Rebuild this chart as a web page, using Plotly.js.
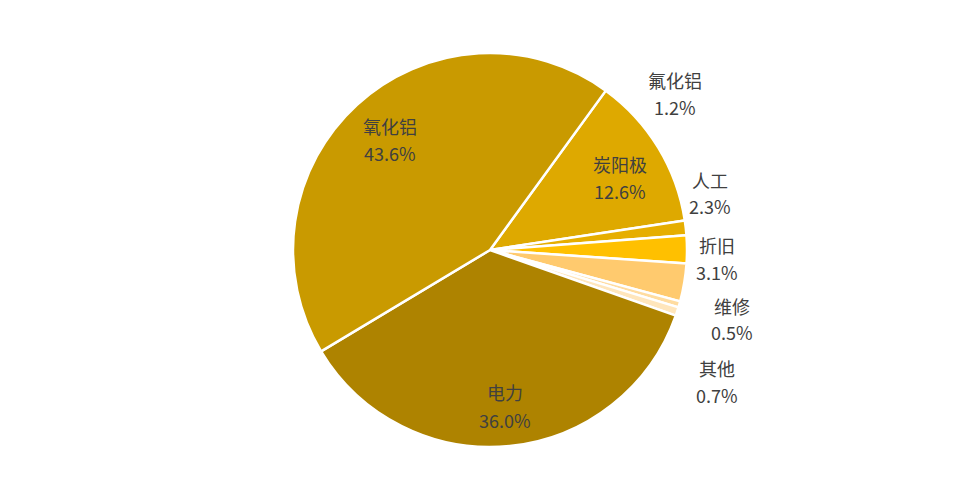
<!DOCTYPE html>
<html>
<head>
<meta charset="utf-8">
<script src="https://cdn.plot.ly/plotly-3.0.1.min.js"></script>
<style>html,body{margin:0;padding:0;background:#fff;}#chart{width:980px;height:500px;}</style>
</head>
<body>
<div id="chart"></div>
<script>
const categories = ["炭阳极", "氟化铝", "人工", "折旧", "维修", "其他", "电力", "氧化铝"];
const values = [12.6, 1.2, 2.3, 3.1, 0.5, 0.7, 36.0, 43.6];
const colors = ["#DEA900", "#E6AE00", "#FFC000", "#FFCA6E", "#FFDCA0", "#FFE6BC", "#AE8300", "#C99A00"];
// label centres in px: [x, y of name line, y of percent line]
const labelPos = {
  "炭阳极": [620, 164, 191], "氟化铝": [675, 80, 107], "人工": [710, 180, 206], "折旧": [717, 245, 272],
  "维修": [732, 306, 332], "其他": [717, 368, 395], "电力": [505, 392, 420], "氧化铝": [390, 126, 153]
};
const W = 980, H = 500;
const font = {family: "Noto Sans CJK SC, sans-serif", size: 18, color: "#404040"};
const annotations = [];
categories.forEach((c, i) => {
  const p = labelPos[c];
  annotations.push({xref: "paper", yref: "paper", x: p[0] / W, y: 1 - p[1] / H,
    xanchor: "center", yanchor: "middle", showarrow: false, text: c, font: font});
  annotations.push({xref: "paper", yref: "paper", x: p[0] / W, y: 1 - p[2] / H,
    xanchor: "center", yanchor: "middle", showarrow: false, text: values[i].toFixed(1) + "%", font: font});
});
Plotly.newPlot("chart", [{
  type: "pie",
  labels: categories,
  values: values,
  sort: false,
  direction: "clockwise",
  rotation: 36,
  textinfo: "none",
  hoverinfo: "label+percent",
  marker: {colors: colors, line: {color: "#FFFFFF", width: 2.5}},
  domain: {x: [0, 1], y: [53 / H, 1 - 53 / H]},
  showlegend: false
}], {
  width: W, height: H,
  margin: {l: 0, r: 0, t: 0, b: 0},
  paper_bgcolor: "#FFFFFF",
  annotations: annotations
}, {displayModeBar: false, staticPlot: true});
</script>
</body>
</html>
